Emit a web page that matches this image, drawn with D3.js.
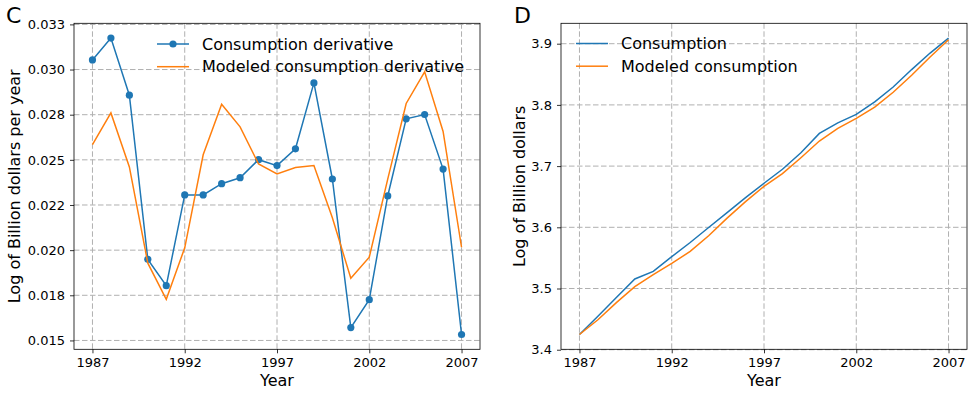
<!DOCTYPE html>
<html>
<head>
<meta charset="utf-8">
<script src="https://cdn.jsdelivr.net/npm/d3@7"></script>
<style>
  html, body { margin: 0; padding: 0; background: #fff; }
  svg { display: block; font-family: "DejaVu Sans", sans-serif; }
</style>
</head>
<body>
<svg id="chart" width="977" height="396"></svg>
<script>
// ---- data ----
const years = [1987,1988,1989,1990,1991,1992,1993,1994,1995,1996,1997,1998,1999,2000,2001,2002,2003,2004,2005,2006,2007];
const consumptionDerivative = [0.03053,0.03174,0.02858,0.01949,0.01803,0.02306,0.02306,0.02368,0.02401,0.02501,0.02468,0.02561,0.02926,0.02394,0.01571,0.01726,0.02300,0.02727,0.02751,0.02449,0.01533];
const modeledDerivative = [0.02584,0.02760,0.02461,0.01928,0.01728,0.02013,0.02528,0.02808,0.02683,0.02477,0.02422,0.02458,0.02468,0.02179,0.01844,0.01961,0.02393,0.02812,0.02987,0.02657,0.02016];
const consumption = [3.4249,3.4547,3.4852,3.5156,3.5280,3.5520,3.5752,3.5997,3.6241,3.6485,3.6720,3.6948,3.7218,3.7534,3.7707,3.7844,3.8049,3.8293,3.8577,3.8847,3.9091];
const modeledConsumption = [3.4249,3.4489,3.4770,3.5031,3.5226,3.5410,3.5606,3.5862,3.6150,3.6420,3.6670,3.6876,3.7137,3.7409,3.7616,3.7779,3.7963,3.8207,3.8484,3.8782,3.9065];
const xTicks = [1987,1992,1997,2002,2007];
const leftYTicks = [0.015,0.0175,0.020,0.0225,0.025,0.0275,0.030,0.0325];
const leftYTickLabels = ["0.015","0.018","0.020","0.022","0.025","0.028","0.030","0.033"];
const rightYTicks = [3.4,3.5,3.6,3.7,3.8,3.9];
const rightYTickLabels = ["3.4","3.5","3.6","3.7","3.8","3.9"];

const BLUE = "#1f77b4", ORANGE = "#ff7f0e";
const svg = d3.select("#chart");
svg.append("rect").attr("width",977).attr("height",396).attr("fill","#fff");

function padded(arrs) {
  const all = arrs.flat();
  const lo = d3.min(all), hi = d3.max(all);
  const m = (hi - lo) * 0.05;
  return [lo - m, hi + m];
}

function panel(opts) {
  const {left, right, top, bottom, yDomain, yTicks, yLabels, series, letter, letterX, ylabel, ylabelX, legend} = opts;
  const x = d3.scaleLinear().domain([1986, 2008]).range([left, right]);
  const y = d3.scaleLinear().domain(yDomain).range([bottom, top]);
  const g = svg.append("g");

  // grid
  g.append("g").selectAll("line.vg").data(xTicks).join("line")
    .attr("x1", d => x(d)).attr("x2", d => x(d)).attr("y1", top).attr("y2", bottom)
    .attr("stroke", "#b0b0b0").attr("stroke-width", 1).attr("stroke-dasharray", "5.5,2.5");
  g.append("g").selectAll("line.hg").data(yTicks).join("line")
    .attr("x1", left).attr("x2", right).attr("y1", d => y(d)).attr("y2", d => y(d))
    .attr("stroke", "#b0b0b0").attr("stroke-width", 1).attr("stroke-dasharray", "5.5,2.5");

  // series
  const clip = "clip" + letter;
  svg.append("clipPath").attr("id", clip).append("rect")
    .attr("x", left).attr("y", top).attr("width", right-left).attr("height", bottom-top);
  series.forEach(s => {
    const line = d3.line().x((d,i) => x(years[i])).y(d => y(d));
    g.append("path").datum(s.values).attr("d", line)
      .attr("fill", "none").attr("stroke", s.color).attr("stroke-width", 1.5)
      .attr("clip-path", `url(#${clip})`);
    if (s.markers) {
      g.append("g").selectAll("circle").data(s.values).join("circle")
        .attr("cx", (d,i) => x(years[i])).attr("cy", d => y(d)).attr("r", 3.6)
        .attr("fill", s.color);
    }
  });

  // axes
  const xAxis = d3.axisBottom(x).tickValues(xTicks).tickFormat(d3.format("d")).tickSize(4).tickPadding(4);
  const ax = g.append("g").attr("transform", `translate(0,${bottom})`).call(xAxis);
  const yAxis = d3.axisLeft(y).tickValues(yTicks).tickFormat((d,i) => yLabels[i]).tickSize(4).tickPadding(5);
  const ay = g.append("g").attr("transform", `translate(${left},0)`).call(yAxis);
  [ax, ay].forEach(a => {
    a.select(".domain").remove();
    a.selectAll("line").attr("stroke", "#000").attr("stroke-width", 0.8);
    a.selectAll("text").attr("font-family", "DejaVu Sans").attr("font-size", 13).attr("fill", "#000");
  });
  g.append("rect").attr("x", left).attr("y", top).attr("width", right-left).attr("height", bottom-top)
    .attr("fill", "none").attr("stroke", "#000").attr("stroke-width", 0.8);

  // labels
  g.append("text").attr("x", (left+right)/2).attr("y", 386).attr("text-anchor", "middle")
    .attr("font-size", 16).text("Year");
  g.append("text").attr("transform", `translate(${ylabelX},${(top+bottom)/2}) rotate(-90)`)
    .attr("text-anchor", "middle").attr("font-size", 16).text(ylabel);
  g.append("text").attr("x", letterX).attr("y", 23).attr("font-size", 22).text(letter);

  // legend
  legend.items.forEach((it, i) => {
    const cy = legend.y + i * 22.7;
    g.append("line").attr("x1", legend.x).attr("x2", legend.x + 32).attr("y1", cy).attr("y2", cy)
      .attr("stroke", it.color).attr("stroke-width", 1.5);
    if (it.markers) g.append("circle").attr("cx", legend.x + 16).attr("cy", cy).attr("r", 3.6).attr("fill", it.color);
    g.append("text").attr("x", legend.x + 45).attr("y", cy).attr("dy", "0.36em")
      .attr("font-size", 16).text(it.label);
  });
}

panel({
  left: 74, right: 480, top: 23.3, bottom: 349.3,
  yDomain: padded([consumptionDerivative, modeledDerivative]),
  yTicks: leftYTicks, yLabels: leftYTickLabels,
  series: [
    {values: consumptionDerivative, color: BLUE, markers: true},
    {values: modeledDerivative, color: ORANGE, markers: false}
  ],
  letter: "C", letterX: 6, ylabel: "Log of Billion dollars per year", ylabelX: 20,
  legend: {x: 157, y: 44, items: [
    {label: "Consumption derivative", color: BLUE, markers: true},
    {label: "Modeled consumption derivative", color: ORANGE, markers: false}
  ]}
});

panel({
  left: 561, right: 967, top: 23.3, bottom: 349.3,
  yDomain: padded([consumption, modeledConsumption]),
  yTicks: rightYTicks, yLabels: rightYTickLabels,
  series: [
    {values: consumption, color: BLUE, markers: false},
    {values: modeledConsumption, color: ORANGE, markers: false}
  ],
  letter: "D", letterX: 514, ylabel: "Log of Billion dollars", ylabelX: 525,
  legend: {x: 576, y: 43.5, items: [
    {label: "Consumption", color: BLUE, markers: false},
    {label: "Modeled consumption", color: ORANGE, markers: false}
  ]}
});
</script>
</body>
</html>
